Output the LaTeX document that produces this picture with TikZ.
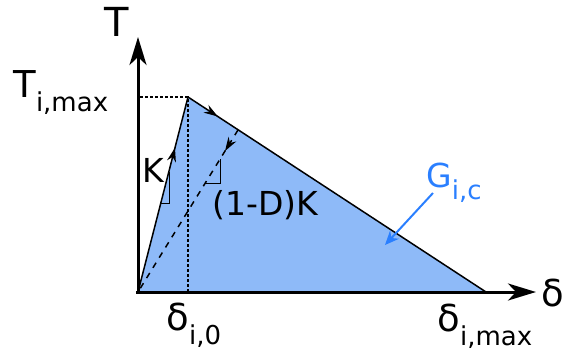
\documentclass[tikz,border=0pt]{standalone}
\usepackage{fontspec}
\setmainfont{DejaVu Sans}
\usetikzlibrary{arrows.meta,decorations.markings}
\definecolor{AreaBlue}{HTML}{8EBAF8}
\definecolor{EnergyBlue}{HTML}{2A7FFF}
\newcommand{\lowidx}[1]{\raisebox{-0.38em}{\fontsize{13}{13}\selectfont #1}}

\begin{document}
\begin{tikzpicture}[
    x=0.5pt, y=-0.5pt,
    >={Stealth[length=7pt,width=4.5pt]},
    axis/.style={line width=1.5pt,-{Stealth[length=14pt,width=8.5pt,inset=4pt]}},
    edge/.style={line width=0.75pt},
    guide/.style={dash pattern=on 1.5pt off 1pt,line width=0.55pt},
    slope/.style={line width=0.45pt},
    lbl/.style={inner sep=0pt,anchor=base west,font=\fontsize{16.5}{18}\selectfont},
    big/.style={inner sep=0pt,anchor=base west,font=\fontsize{18.5}{20}\selectfont},
    midarrow/.style={postaction={decorate},
      decoration={markings,mark=at position #1 with {\arrow{>}}}}
  ]
  \useasboundingbox (0,0) rectangle (564,349);
  % corners of the law
  \coordinate (O) at (138,292);
  \coordinate (P) at (188,97);
  \coordinate (E) at (486,292);
  \coordinate (U) at (238,130);
  \coordinate (Ytip) at (138,37);
  \coordinate (Xtip) at (536,292);
  \coordinate (Tm) at (140,97);
  \coordinate (D0) at (188,292);

  % dissipated energy
  \fill[AreaBlue] (O) -- (P) -- (E) -- cycle;
  \draw[guide] (Tm) -- (P) -- (D0);
  \draw[edge,dashed,midarrow=0.13] (U) -- (O);
  \draw[edge,midarrow=0.74] (O) -- (P);
  \draw[edge,midarrow=0.1] (P) -- (E);

  % slopes
  \draw[slope] (161,203) -- (169,203) -- (169,172);
  \draw[slope] (205,183) -- (220,183) -- (220,159);

  % axes
  \draw[axis] (138,294) -- (Ytip);
  \draw[axis] (136,292) -- (Xtip);

  \node[big,font=\fontsize{20}{22}\selectfont] (T) at (104,36) {T};
  \node[big] (Tmax) at (13,97) {T\lowidx{i,max}};
  \node[big] (dx) at (541,306) {δ};
  \node[big] (d0) at (166,330) {δ\lowidx{i,0}};
  \node[big] (dmax) at (437,331) {δ\lowidx{i,max}};
  \node[lbl] (K) at (142,182) {K};
  \node[lbl] (DK) at (212,215) {(1-D)K};
  \node[lbl,text=EnergyBlue] (G) at (426,187) {G\lowidx{i,c}};

  \coordinate (Gtail) at (433,193);
  \coordinate (Gtip) at (385,245);
  \draw[EnergyBlue,line width=1pt,-{Stealth[length=7pt,width=6pt]}] (Gtail) -- (Gtip);
\end{tikzpicture}
\end{document}
